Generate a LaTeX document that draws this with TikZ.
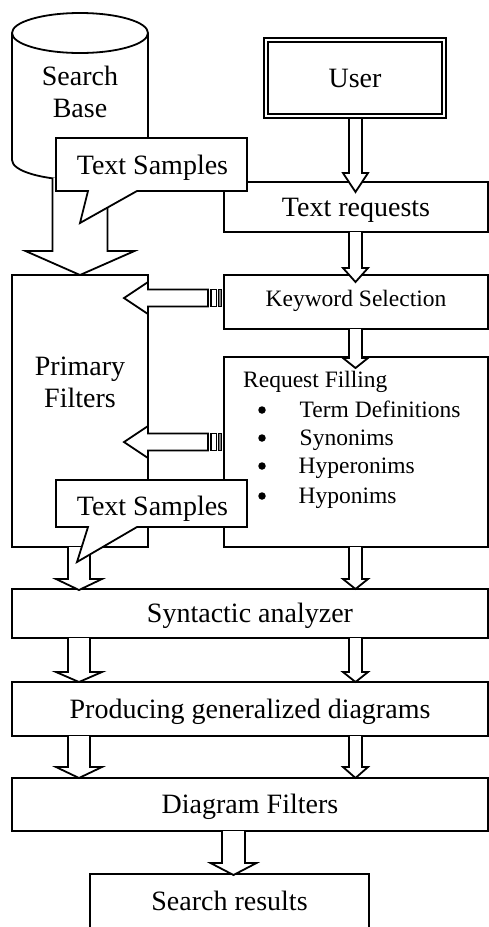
\documentclass[tikz,border=0pt]{standalone}
\usepackage{fontspec}
\setmainfont{Liberation Serif}
\newcommand\bigfnt{\fontsize{28}{32}\selectfont}
\newcommand\smlfnt{\fontsize{23.5}{29}\selectfont}
\tikzset{
  lw/.style={line width=1.8pt},
  box/.style={draw, lw, fill=white, rectangle, inner sep=0pt, text height=18.5pt, text depth=0pt, font=\bigfnt},
  blk/.style={draw, lw, fill=white, line join=miter},
  txt/.style={inner sep=0pt, font=\bigfnt},
  stxt/.style={inner sep=0pt, font=\smlfnt},
  bul/.style={circle, fill=black, inner sep=0pt, minimum size=7.5pt},
}
% down block arrow: x, ytop, yhead, ytip, shaft half, head half
\newcommand\varrow[6]{%
  \draw[blk] ({#1-#5},#2) -- ({#1-#5},#3) -- ({#1-#6},#3) -- (#1,#4) -- ({#1+#6},#3) -- ({#1+#5},#3) -- ({#1+#5},#2);}
% left striped block arrow at centre y
\newcommand\harrow[1]{%
  \draw[blk] (208,{#1-8.5}) -- (148,{#1-8.5}) -- (148,{#1-16}) -- (124,#1) -- (148,{#1+16}) -- (148,{#1+8.5}) -- (208,{#1+8.5}) -- cycle;
  \draw[lw, fill=white] (211,{#1-8.5}) rectangle (216.5,{#1+8.5});
  \draw[line width=0.8pt, fill=gray] (218.5,{#1-8.5}) rectangle (221,{#1+8.5});}
\begin{document}
\begin{tikzpicture}[x=1pt,y=-1pt]
\useasboundingbox (0,0) rectangle (489,927);
% cylinder (Search Base)
\draw[lw, fill=white] (12,33) -- (12,160) arc[start angle=180, end angle=0, x radius=68, y radius=20] -- (148,33);
\draw[lw, fill=white] (80,33) ellipse[x radius=68, y radius=20];
\node[txt, anchor=base] (sbA) at (80,85) {Search};
\node[txt, anchor=base] (sbB) at (80,117) {Base};
% boxes
\node[draw, line width=1.6pt, double, double distance=2.4pt, minimum width=178pt, minimum height=76pt,
      inner sep=0pt, text height=18.5pt, text depth=0pt, font=\bigfnt] (user) at (355,78) {User};
\node[box, minimum width=264pt, minimum height=50pt] (textreq) at (356,207) {Text requests};
\node[box, minimum width=264pt, minimum height=54pt, font=\smlfnt, text height=15.5pt, text depth=7.5pt] (keyword) at (356,302) {Keyword Selection};
\node[box, minimum width=264pt, minimum height=190pt] (request) at (356,452) {};
\node[box, minimum width=136pt, minimum height=272pt] (primary) at (80,411) {};
\node[box, minimum width=476pt, minimum height=49pt] (syn) at (250,613.5) {Syntactic analyzer};
\node[box, minimum width=476pt, minimum height=54pt] (prod) at (250,709) {Producing generalized diagrams};
\node[box, minimum width=476pt, minimum height=53pt] (diag) at (250,804.5) {Diagram Filters};
\node[box, draw=none, minimum width=277pt, minimum height=53pt] (results) at (229.5,901.5) {Search results};
\draw[lw] (results.south west) -- (results.north west) -- (results.north east) -- (results.south east);
% texts
\node[txt, anchor=base] (pfA) at (80,375) {Primary};
\node[txt, anchor=base] (pfB) at (80,407) {Filters};
\node[stxt, anchor=base west] (rfill) at (243,387) {Request Filling};
\node[bul] (b1) at (262,410) {};
\node[bul] (b2) at (262,438) {};
\node[bul] (b3) at (262,466) {};
\node[bul] (b4) at (262,496) {};
\node[stxt, anchor=base west] (i1) at (299.5,417) {Term Definitions};
\node[stxt, anchor=base west] (i2) at (299.5,445) {Synonims};
\node[stxt, anchor=base west] (i3) at (298.5,473) {Hyperonims};
\node[stxt, anchor=base west] (i4) at (298.5,503) {Hyponims};
% arrows
\varrow{80}{178}{251}{275}{27.5}{54.5}
\varrow{355.5}{119}{173}{192}{6.5}{12.5}
\varrow{355.5}{232}{268}{282}{6.5}{12.5}
\varrow{355.5}{329}{358}{368}{6.5}{12.5}
\varrow{355.5}{547}{579}{589}{6.5}{12.5}
\varrow{355.5}{638}{672}{682}{6.5}{12.5}
\varrow{355.5}{736}{767}{778}{6.5}{12.5}
\varrow{79}{547}{579}{590}{11}{23}
\varrow{79}{638}{672}{682}{11}{23}
\varrow{79}{736}{767}{778}{11}{23}
\varrow{233.5}{831}{863}{875}{11.5}{23}
\harrow{298}
\harrow{442}
% callouts
\draw[blk] (56,138) -- (247,138) -- (247,191) -- (137,191) -- (80,223) -- (88,191) -- (56,191) -- cycle;
\node[txt, anchor=base] (ts1) at (152.5,174) {Text Samples};
\draw[blk] (56,480) -- (247,480) -- (247,527) -- (137,527) -- (77,562) -- (88,527) -- (56,527) -- cycle;
\node[txt, anchor=base] (ts2) at (152.5,515) {Text Samples};
\end{tikzpicture}
\end{document}
